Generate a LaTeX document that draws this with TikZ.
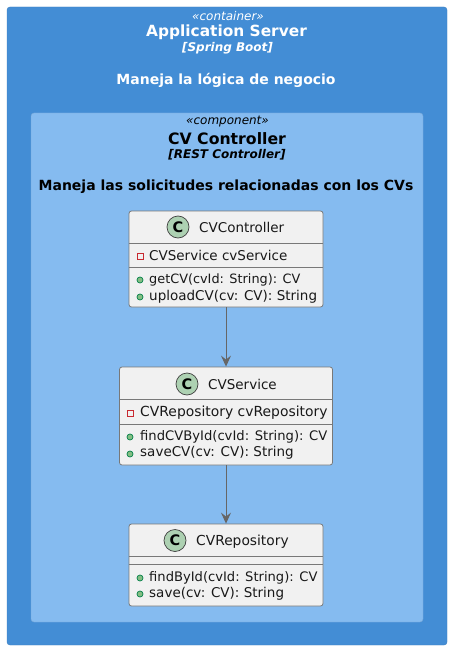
\documentclass[tikz,border=0pt]{standalone}
\usepackage{xcolor}
\usepackage{fontspec}
\setmainfont{DejaVu Sans}
\usetikzlibrary{arrows.meta}
\definecolor{containerblue}{HTML}{438DD5}
\definecolor{containeredge}{HTML}{3C7FC0}
\definecolor{componentblue}{HTML}{85BBF0}
\definecolor{componentedge}{HTML}{78A8D8}
\definecolor{classfill}{HTML}{F1F1F1}
\definecolor{classedge}{HTML}{787878}
\definecolor{spotfill}{HTML}{ADD1B2}
\definecolor{linkgray}{HTML}{666666}
\definecolor{pubfill}{HTML}{84BE84}
\definecolor{pubedge}{HTML}{038048}
\definecolor{privedge}{HTML}{C82930}
\tikzset{
    classbox/.style={draw=classedge,fill=classfill,rounded corners=2.5pt,line width=0.8pt,inner sep=0pt},
    member/.style={anchor=west,inner sep=0pt,font=\fontsize{13.5}{14}\selectfont,text=black!90},
    classname/.style={inner sep=0pt,font=\fontsize{13.5}{14}\selectfont,text=black!90},
    spot/.style={circle,draw=black!75,fill=spotfill,line width=0.7pt,minimum size=22pt,inner sep=0pt,font=\bfseries\fontsize{14.5}{15}\selectfont},
    pub/.style={circle,draw=pubedge,fill=pubfill,line width=0.7pt,minimum size=6pt,inner sep=0pt},
    priv/.style={rectangle,draw=privedge,line width=0.7pt,minimum size=6pt,inner sep=0pt},
    link/.style={draw=linkgray,line width=1pt,-{Stealth[length=11pt,width=10pt,inset=4pt]}}
}
\begin{document}
\begin{tikzpicture}[x=1pt,y=-1pt]
    \useasboundingbox (0,0) rectangle (451,650);
    % container and component
    \node[draw=containeredge,fill=containerblue,rounded corners=3pt,minimum width=440pt,minimum height=638pt,inner sep=0pt] (server) at (227,326) {};
    \node[draw=componentedge,fill=componentblue,rounded corners=3pt,minimum width=392pt,minimum height=509pt,inner sep=0pt] (controllerbox) at (227,367.5) {};

    \node[text=white,font=\itshape\fontsize{12}{12}\selectfont,inner sep=0pt] (serverstereo) at (228,16) {«container»};
    \node[text=white,font=\bfseries\fontsize{15.4}{16}\selectfont,inner sep=0pt] (servertitle) at (226.5,32.5) {Application Server};
    \node[text=white,font=\bfseries\itshape\fontsize{12}{12}\selectfont,inner sep=0pt] (servertech) at (227.5,48) {[Spring Boot]};
    \node[text=white,font=\bfseries\fontsize{14}{14}\selectfont,inner sep=0pt] (serverdesc) at (226,80.5) {Maneja la lógica de negocio};

    \node[text=black,font=\itshape\fontsize{12}{12}\selectfont,inner sep=0pt] (compstereo) at (227.5,122) {«component»};
    \node[text=black,font=\bfseries\fontsize{15.7}{16}\selectfont,inner sep=0pt] (comptitle) at (227,138.5) {CV Controller};
    \node[text=black,font=\bfseries\itshape\fontsize{12}{12}\selectfont,inner sep=0pt] (comptech) at (227,154.5) {[REST Controller]};
    \node[text=black,font=\bfseries\fontsize{14}{14}\selectfont,inner sep=0pt] (compdesc) at (226,186.5) {Maneja las solicitudes relacionadas con los CVs};

    % CVController
    \node[classbox,minimum width=194pt,minimum height=96pt] (cvController) at (226,259) {};
    \draw[classedge,line width=0.8pt] (129,243) -- (323,243) (129,267) -- (323,267);
    \node[spot] (controllerspot) at (178,227) {C};
    \node[classname,anchor=west] (controllername) at (199,227.5) {CVController};
    \node[priv] (controllerfield) at (140,256) {};
    \node[member] (controllerfieldtext) at (149,255.5) {CVService cvService};
    \node[pub] (controllerget) at (140,280) {};
    \node[member,font=\fontsize{12.85}{14}\selectfont] (controllergettext) at (149,280) {getCV(cvId: String): CV};
    \node[pub] (controllerupload) at (140,297) {};
    \node[member] (controlleruploadtext) at (149,296.5) {uploadCV(cv: CV): String};

    % CVService
    \node[classbox,minimum width=213pt,minimum height=98pt] (cvService) at (226,416) {};
    \draw[classedge,line width=0.8pt] (119.5,399) -- (332.5,399) (119.5,424) -- (332.5,424);
    \node[spot] (servicespot) at (187,384) {C};
    \node[classname,anchor=west] (servicename) at (208,384.5) {CVService};
    \node[priv] (servicefield) at (130,413) {};
    \node[member,font=\fontsize{13.9}{14}\selectfont] (servicefieldtext) at (140,412.5) {CVRepository cvRepository};
    \node[pub] (servicefind) at (130,437) {};
    \node[member,font=\fontsize{13.15}{14}\selectfont] (servicefindtext) at (140,436.5) {findCVById(cvId: String): CV};
    \node[pub] (servicesave) at (130,454) {};
    \node[member] (servicesavetext) at (140,453) {saveCV(cv: CV): String};

    % CVRepository
    \node[classbox,minimum width=194pt,minimum height=82pt] (cvRepository) at (226,565) {};
    \draw[classedge,line width=0.8pt] (129,556) -- (323,556) (129,564) -- (323,564);
    \node[spot] (repospot) at (175,540.5) {C};
    \node[classname,anchor=west,font=\fontsize{13.8}{14}\selectfont] (reponame) at (196,541.5) {CVRepository};
    \node[pub] (repofind) at (140,578) {};
    \node[member,font=\fontsize{13.1}{14}\selectfont] (repofindtext) at (149,577.5) {findById(cvId: String): CV};
    \node[pub] (reposave) at (140,594) {};
    \node[member] (reposavetext) at (149,593.5) {save(cv: CV): String};

    \draw[link] (cvController) -- (cvService);
    \draw[link] (cvService) -- (cvRepository);
\end{tikzpicture}
\end{document}
